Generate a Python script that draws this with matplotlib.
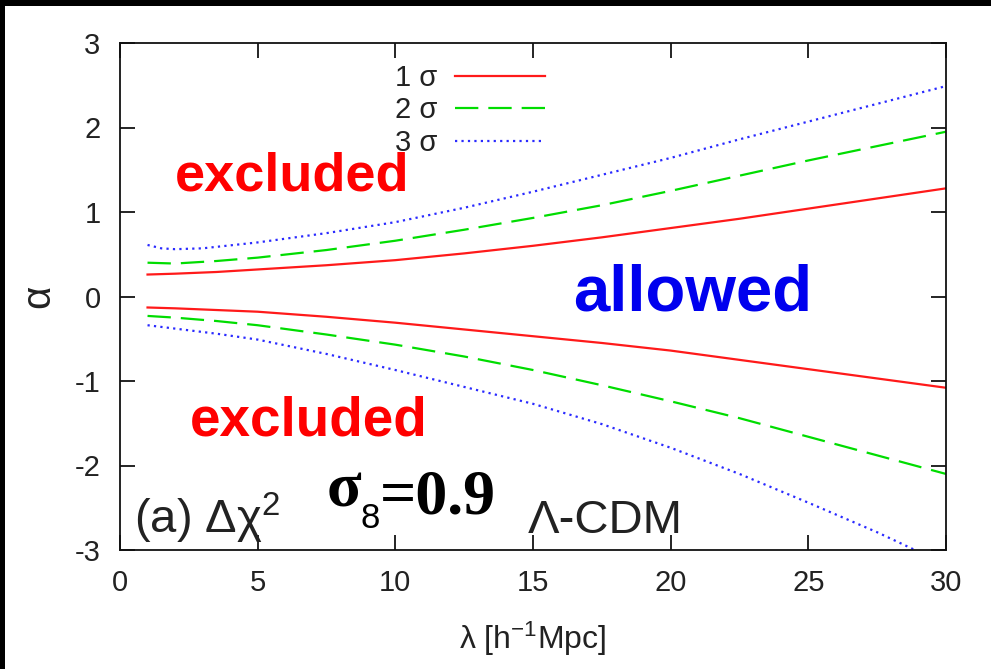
import matplotlib
matplotlib.use("Agg")
import matplotlib.pyplot as plt
from matplotlib.patches import Rectangle

plt.rcParams['font.family'] = ['Liberation Sans', 'DejaVu Sans']
plt.rcParams['mathtext.fontset'] = 'custom'
plt.rcParams['mathtext.rm'] = 'Liberation Sans'
plt.rcParams['mathtext.it'] = 'Liberation Sans'
plt.rcParams['axes.unicode_minus'] = False

# Confidence contours in the (lambda, alpha) plane
lam_1s = [1, 2, 3.5, 5, 7.5, 10, 12.5, 15, 17.5, 20, 22.5, 25, 27.5, 30]
up_1s = [0.26, 0.27, 0.29, 0.32, 0.37, 0.43, 0.51, 0.60, 0.70, 0.81, 0.92, 1.04, 1.16, 1.28]
lo_1s = [-0.13, -0.14, -0.16, -0.18, -0.24, -0.31, -0.39, -0.47, -0.55, -0.64, -0.75, -0.86, -0.97, -1.08]

lam_2s = [1, 2, 3.5, 5, 7.5, 10, 12.5, 15, 17.5, 20, 22.5, 25, 27.5, 30]
up_2s = [0.40, 0.39, 0.42, 0.46, 0.55, 0.66, 0.79, 0.93, 1.08, 1.25, 1.43, 1.61, 1.78, 1.95]
lo_2s = [-0.23, -0.25, -0.29, -0.34, -0.45, -0.57, -0.71, -0.87, -1.05, -1.24, -1.44, -1.66, -1.88, -2.10]

lam_3s_up = [1, 1.5, 2, 3, 5, 7.5, 10, 12.5, 15, 17.5, 20, 22.5, 25, 27.5, 30]
up_3s = [0.61, 0.57, 0.56, 0.57, 0.64, 0.75, 0.88, 1.05, 1.24, 1.44, 1.64, 1.86, 2.07, 2.28, 2.49]
lam_3s_lo = [1, 2, 3.5, 5, 7.5, 10, 12.5, 15, 17.5, 20, 22.5, 25, 27.5, 29.2]
lo_3s = [-0.34, -0.38, -0.44, -0.51, -0.68, -0.87, -1.07, -1.27, -1.51, -1.79, -2.10, -2.44, -2.79, -3.05]

legend_labels = ['1 σ', '2 σ', '3 σ']
x_ticks = [0, 5, 10, 15, 20, 25, 30]
y_ticks = [-3, -2, -1, 0, 1, 2, 3]

RED = '#ff1a1a'
GREEN = '#00dd00'
BLUE = '#2a2aff'
TEXT_DARK = '#222222'
SERIF = ['Liberation Serif', 'DejaVu Serif']

fig = plt.figure(figsize=(9.91, 6.69), dpi=100)
fig.patch.set_facecolor('white')
ax = fig.add_axes([120 / 991, 1 - 550 / 669, 826 / 991, 507 / 669])

lw = 1.6
l1, = ax.plot(lam_1s, up_1s, color=RED, lw=lw, label=legend_labels[0])
ax.plot(lam_1s, lo_1s, color=RED, lw=lw)
l2, = ax.plot(lam_2s, up_2s, color=GREEN, lw=lw, dashes=(10.5, 4.5), label=legend_labels[1])
ax.plot(lam_2s, lo_2s, color=GREEN, lw=lw, dashes=(10.5, 4.5))
l3, = ax.plot(lam_3s_up, up_3s, color=BLUE, lw=lw, dashes=(1.0, 1.9), label=legend_labels[2])
ax.plot(lam_3s_lo, lo_3s, color=BLUE, lw=lw, dashes=(1.0, 1.9))

ax.set_xlim(0, 30)
ax.set_ylim(-3, 3)
ax.set_xticks(x_ticks)
ax.set_yticks(y_ticks)
ax.tick_params(direction='in', length=11, width=1.2, top=True, right=True,
               labelsize=21, colors='black', labelcolor=TEXT_DARK, pad=14)
for s in ax.spines.values():
    s.set_linewidth(1.3)
    s.set_color('#111111')

ax.set_xlabel(r'λ [h$^{-1}$Mpc]', fontsize=23, color=TEXT_DARK)
ax.xaxis.set_label_coords(0.5, -0.138)
ax.xaxis.label.set_va('top')
ax.set_ylabel('α', fontsize=29, color=TEXT_DARK, rotation=90)
ax.yaxis.set_label_coords(-0.076, 0.5)

leg = ax.legend(handles=[l1, l2, l3], loc='upper right',
                bbox_to_anchor=(545 / 991, 1 - 64 / 669), bbox_transform=fig.transFigure,
                frameon=False, markerfirst=False, fontsize=21, handlelength=3.1,
                handletextpad=0.6, labelspacing=0.15, borderpad=0, borderaxespad=0)
for t in leg.get_texts():
    t.set_color(TEXT_DARK)

# Region annotations
ax.text(2.0, 1.25, 'excluded', color='red', fontsize=39, fontweight='bold')
ax.text(2.55, -1.64, 'excluded', color='red', fontsize=39.5, fontweight='bold')
ax.text(16.45, -0.16, 'allowed', color='#0000ee', fontsize=47, fontweight='bold')

ax.text(0.5, -2.80, r'(a) Δχ$^{2}$', color=TEXT_DARK, fontsize=34)
ax.text(14.8, -2.80, 'Λ-CDM', color=TEXT_DARK, fontsize=34)

sig = ax.text(7.52, -2.49, 'σ', color='black', fontsize=46, fontweight='bold', family=SERIF)
sub = ax.annotate('8', xy=(1.0, 0.0), xycoords=sig, xytext=(-1, -5), textcoords='offset points',
                  fontsize=25, color='black', va='baseline', ha='left')
ax.annotate('=0.9', xy=(1.0, 0.0), xycoords=sub, xytext=(0, 5), textcoords='offset points',
            fontsize=46, fontweight='bold', color='black', va='bottom', ha='left', family=SERIF)

# Dark frame strips along the top and left edges
fig.patches.append(Rectangle((0, 1 - 6 / 669), 1, 6 / 669, transform=fig.transFigure,
                             facecolor='black', edgecolor='none', zorder=10))
fig.patches.append(Rectangle((0, 0), 5 / 991, 1, transform=fig.transFigure,
                             facecolor='black', edgecolor='none', zorder=10))

fig.savefig('out.png', dpi=100, facecolor='white')
